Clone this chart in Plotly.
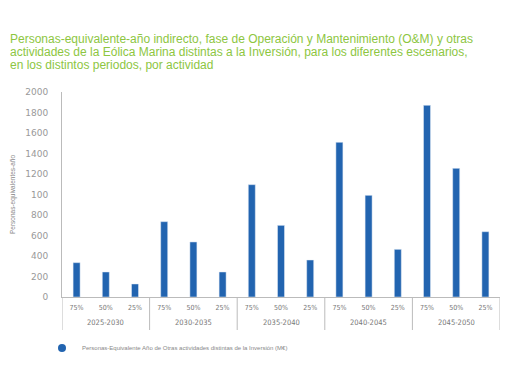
import plotly.graph_objects as go

periods = ["2025-2030", "2030-2035", "2035-2040", "2040-2045", "2045-2050"]
scenarios = ["75%", "50%", "25%"]
values = [335, 244, 127,
          735, 537, 244,
          1096, 699, 361,
          1509, 992, 465,
          1870, 1255, 637]
y_tickvals = [0, 200, 400, 600, 800, 1000, 1200, 1400, 1600, 1800, 2000]
y_ticktext = ["0", "200", "400", "600", "800", "100", "1200", "1400", "1600", "1800", "2000"]
title_lines = [
    "Personas-equivalente-año indirecto, fase de Operación y Mantenimiento (O&M) y otras",
    "actividades de la Eólica Marina distintas a la Inversión, para los diferentes escenarios,",
    "en los distintos periodos, por actividad",
]
legend_name = "Personas-Equivalente Año de Otras actividades distintas de la Inversión (M€)"

W, H = 510, 382
L, R, T, B = 62, 10, 92, 85
cats = [f"{p}|{s}" for p in periods for s in scenarios]
ticktext = [s for _ in periods for s in scenarios]

fig = go.Figure()
fig.add_trace(go.Bar(
    x=cats, y=values,
    marker=dict(color="#2264B0"),
    width=0.24,
    showlegend=False,
))
fig.add_trace(go.Scatter(
    x=[None], y=[None], mode="markers",
    marker=dict(color="#2264B0", size=8, symbol="circle"),
    name=legend_name, showlegend=True,
))

pw = W - L - R
ph = H - T - B
annotations = []
for i, line in enumerate(title_lines):
    annotations.append(dict(
        text=line, xref="paper", yref="paper",
        x=(8 - L) / pw, xanchor="left",
        y=1 + (T - (39 + 13 * i)) / ph, yanchor="middle",
        showarrow=False,
        font=dict(family="Liberation Sans, Arial, sans-serif", size=12, color="#8DC63F"),
    ))
for gi, p in enumerate(periods):
    annotations.append(dict(
        text=p, xref="x", yref="paper",
        x=gi * 3 + 1, y=-(322 - (H - B)) / ph, yanchor="middle",
        showarrow=False,
        font=dict(family="DejaVu Sans Condensed, DejaVu Sans, sans-serif", size=7.5, color="#777777"),
    ))

shapes = []
for gi in range(len(periods) + 1):
    shapes.append(dict(
        type="line", xref="x", yref="paper",
        x0=gi * 3 - 0.5, x1=gi * 3 - 0.5,
        y0=0, y1=-(330 - (H - B)) / ph,
        line=dict(color="#BBBBBB", width=1),
    ))

fig.update_layout(
    width=W, height=H,
    margin=dict(l=L, r=R, t=T, b=B, autoexpand=False),
    paper_bgcolor="white", plot_bgcolor="white",
    font=dict(family="Liberation Sans, Arial, sans-serif", color="#888888"),
    xaxis=dict(type="category", categoryorder="array", categoryarray=cats,
               tickvals=cats, ticktext=ticktext, range=[-0.5, len(cats) - 0.5],
               showline=True, linecolor="#BBBBBB", linewidth=1,
               tickfont=dict(size=7, color="#777777", family="DejaVu Sans Condensed, DejaVu Sans, sans-serif"),
               ticks="", ticklabelstandoff=4, showgrid=False, automargin=False),
    yaxis=dict(range=[0, 2000], tickvals=y_tickvals, ticktext=y_ticktext,
               showline=True, linecolor="#BBBBBB", linewidth=1, showgrid=False, zeroline=False,
               tickfont=dict(size=9, color="#999999", family="DejaVu Sans, sans-serif"),
               ticks="", ticklabelstandoff=11, automargin=False,
               title=dict(text="Personas-equivalentes-año", font=dict(size=6.5, color="#888888"), standoff=9)),
    legend=dict(orientation="h", x=(42 - L) / pw, xanchor="left",
                y=-(348 - (H - B)) / ph, yanchor="middle",
                font=dict(size=6, color="#888888", family="Liberation Sans, sans-serif"),
                itemwidth=30, tracegroupgap=0),
    annotations=annotations,
    shapes=shapes,
)
fig.write_html("out.html", config={"displayModeBar": False},
               post_script="document.body.style.margin='0';")
